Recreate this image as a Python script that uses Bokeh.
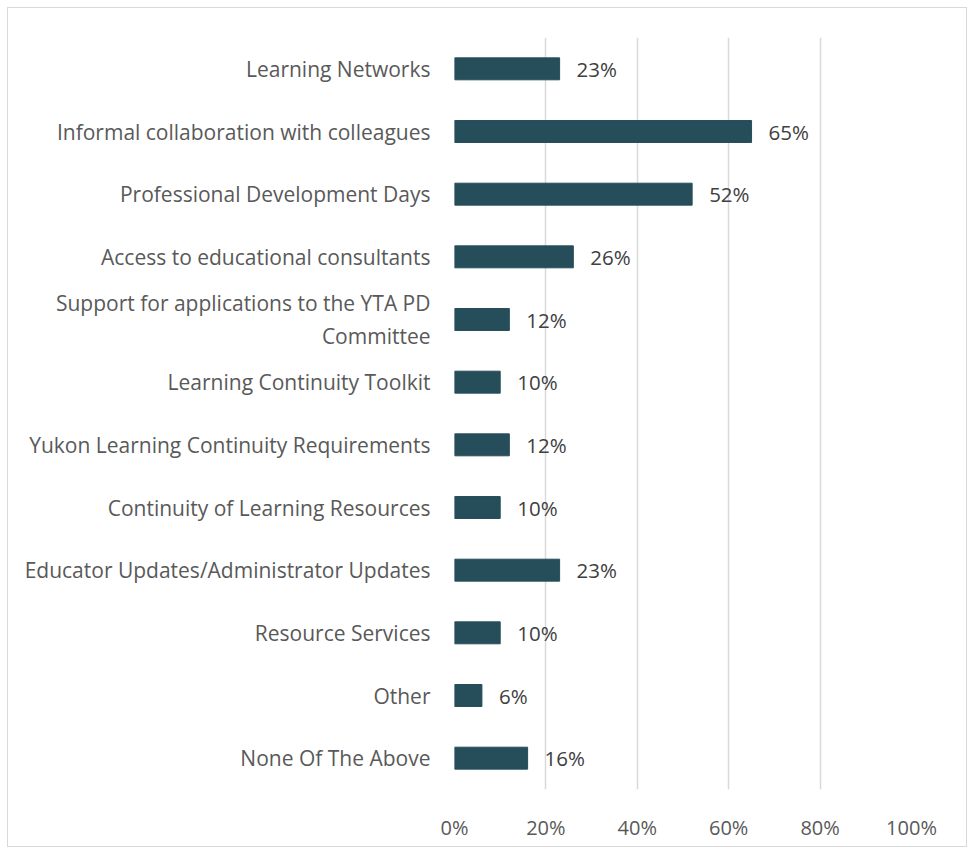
from bokeh.plotting import figure
from bokeh.models import FactorRange, ColumnDataSource, FixedTicker, CustomJSTickFormatter
from bokeh.core.properties import value
from bokeh.embed import file_html
from bokeh.resources import INLINE

categories = [
    "Learning Networks",
    "Informal collaboration with colleagues",
    "Professional Development Days",
    "Access to educational consultants",
    "Support for applications to the YTA PD\nCommittee",
    "Learning Continuity Toolkit",
    "Yukon Learning Continuity Requirements",
    "Continuity of Learning Resources",
    "Educator Updates/Administrator Updates",
    "Resource Services",
    "Other",
    "None Of The Above",
]
values = [23, 65, 52, 26, 12, 10, 12, 10, 23, 10, 6, 16]
tick_values = [0, 20, 40, 60, 80, 100]

FONT = "Open Sans"
source = ColumnDataSource(dict(
    cat=categories,
    val=values,
    lbl=[f"{v}%" for v in values],
))

p = figure(
    width=960, height=840,
    y_range=FactorRange(*reversed(categories)),
    x_range=(0, 100),
    output_backend="svg", toolbar_location=None,
    min_border_left=446, min_border_right=57,
    min_border_top=29, min_border_bottom=59,
)
p.styles = {"border": "1px solid #d9d9d9", "box-sizing": "border-box",
            "margin-left": "7px", "margin-top": "7px"}
p.outline_line_color = None

p.hbar(y="cat", right="val", left=0, height=0.35, source=source,
       fill_color="#264D5A", line_color="#264D5A")
p.text(x="val", y="cat", text="lbl", source=source, x_offset=17,
       text_align="left", text_baseline="middle",
       text_font=value(FONT), text_font_size="20.5px", text_color="#404040")

p.xaxis.ticker = FixedTicker(ticks=tick_values)
p.xaxis.formatter = CustomJSTickFormatter(code="return tick + '%';")
p.xaxis.axis_line_color = None
p.xaxis.major_tick_line_color = None
p.xaxis.minor_tick_line_color = None
p.xaxis.major_label_standoff = 18
p.xaxis.major_label_text_font = FONT
p.xaxis.major_label_text_font_size = "20px"
p.xaxis.major_label_text_color = "#595959"

p.yaxis.axis_line_color = None
p.yaxis.major_tick_line_color = None
p.yaxis.minor_tick_line_color = None
p.yaxis.major_label_standoff = 18
p.yaxis.major_label_text_font = FONT
p.yaxis.major_label_text_font_size = "21px"
p.yaxis.major_label_text_color = "#595959"

p.ygrid.grid_line_color = None
p.xgrid.ticker = FixedTicker(ticks=tick_values)
p.xgrid.grid_line_color = "#d9d9d9"
p.xgrid.grid_line_width = 1.5

open("out.html", "w").write(file_html(p, INLINE))
